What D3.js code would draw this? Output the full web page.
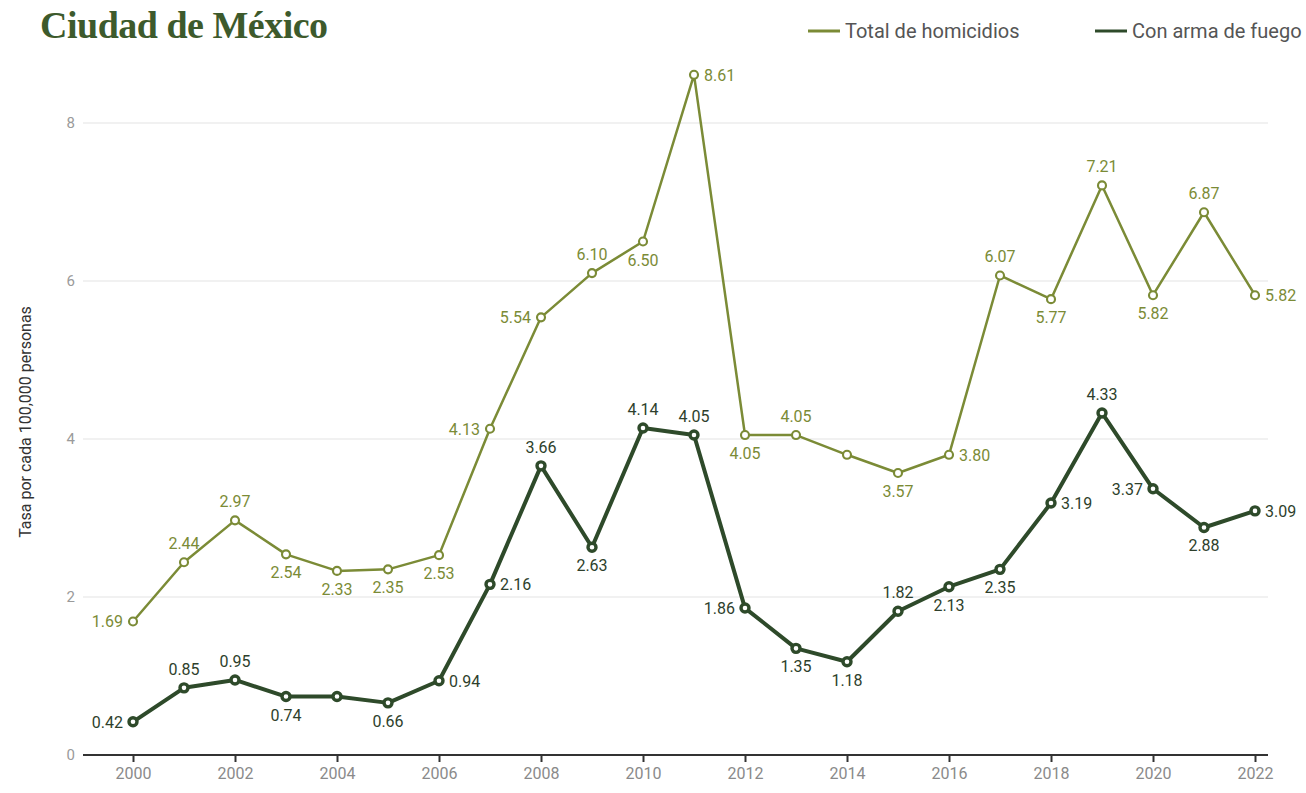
<!DOCTYPE html>
<html><head><meta charset="utf-8">
<script src="https://cdn.jsdelivr.net/npm/d3@7"></script>
<style>
body{margin:0;background:#fff;}
svg text{font-family:Roboto,"Noto Sans",sans-serif;}
</style></head>
<body><svg id="c" width="1306" height="793"></svg>
<script>
const years = d3.range(2000, 2023);
const totalValues = [1.69,2.44,2.97,2.54,2.33,2.35,2.53,4.13,5.54,6.10,6.50,8.61,4.05,4.05,3.80,3.57,3.80,6.07,5.77,7.21,5.82,6.87,5.82];
const firearmValues = [0.42,0.85,0.95,0.74,0.74,0.66,0.94,2.16,3.66,2.63,4.14,4.05,1.86,1.35,1.18,1.82,2.13,2.35,3.19,4.33,3.37,2.88,3.09];
const totalLabelPos = ["l","t","t","b","b","b","b","l","l","t","b","r","b","t","","b","r","t","b","t","b","t","r"];
const firearmLabelPos = ["l","t","t","b","","b","r","r","t","b","t","t","l","b","b","t","b","b","r","t","l","b","r"];
const yTicks = [0,2,4,6,8];
const xTicks = [2000,2002,2004,2006,2008,2010,2012,2014,2016,2018,2020,2022];
const seriesNames = ["Total de homicidios","Con arma de fuego"];
const colors = ["#7b8b36","#2e4a2a"];

const svg = d3.select("#c");
const x = d3.scaleLinear().domain([2000,2022]).range([133,1255]);
const y = d3.scaleLinear().domain([0,8]).range([755,123]);

svg.append("text").attr("x",40).attr("y",38).text("Ciudad de México")
  .style("font-family","'Liberation Serif','DejaVu Serif',serif").style("font-weight","bold")
  .style("font-size","38px").attr("fill","#3d5a2c").attr("letter-spacing","-0.5");

// grid
svg.append("g").selectAll("line").data(yTicks.filter(d=>d>0)).join("line")
  .attr("x1",83).attr("x2",1268).attr("y1",d=>y(d)).attr("y2",d=>y(d))
  .attr("stroke","#e3e3e3").attr("stroke-width",1);
svg.append("g").selectAll("text").data(yTicks).join("text")
  .attr("x",75).attr("y",d=>y(d)+5).attr("text-anchor","end").text(d=>d)
  .attr("fill","#9a9a9a").style("font-size","15px");

// x axis
const xa = svg.append("g").attr("transform","translate(0,755)")
  .call(d3.axisBottom(x).tickValues(xTicks).tickFormat(d3.format("d")).tickSize(7).tickPadding(6));
xa.select(".domain").attr("d","M83,0H1268").attr("stroke","#333").attr("stroke-width",2);
xa.selectAll(".tick line").attr("stroke","#333").attr("stroke-width",2);
xa.selectAll(".tick text").attr("fill","#8a8a8a").style("font-size","16px").style("font-family","Roboto,sans-serif");

svg.append("text").attr("transform","translate(31,422) rotate(-90)").attr("text-anchor","middle")
  .text("Tasa por cada 100,000 personas").attr("fill","#333").style("font-size","16px");

function drawSeries(vals,pos,color,width,r,lblColor){
  const data = years.map((yr,i)=>({yr,v:vals[i],p:pos[i]}));
  svg.append("path").datum(data).attr("fill","none").attr("stroke",color).attr("stroke-width",width)
    .attr("stroke-linejoin","round")
    .attr("d",d3.line().x(d=>x(d.yr)).y(d=>y(d.v)));
  svg.append("g").selectAll("circle").data(data).join("circle")
    .attr("cx",d=>x(d.yr)).attr("cy",d=>y(d.v)).attr("r",r)
    .attr("fill","#fff").attr("stroke",color).attr("stroke-width",width*0.85);
  svg.append("g").selectAll("text").data(data.filter(d=>d.p)).join("text")
    .attr("x",d=>x(d.yr)+(d.p==="l"?-10:d.p==="r"?10:0))
    .attr("y",d=>y(d.v)+(d.p==="t"?-13:d.p==="b"?24:6))
    .attr("text-anchor",d=>d.p==="l"?"end":d.p==="r"?"start":"middle")
    .text(d=>d.v.toFixed(2)).attr("fill",lblColor).style("font-size","16px");
}
drawSeries(totalValues,totalLabelPos,colors[0],2.5,4,"#7b8b36");
drawSeries(firearmValues,firearmLabelPos,colors[1],4,4,"#2e3f2c");

// legend
const lx=[808,1095];
seriesNames.forEach((n,i)=>{
  svg.append("line").attr("x1",lx[i]).attr("x2",lx[i]+32).attr("y1",31).attr("y2",31)
    .attr("stroke",colors[i]).attr("stroke-width",3);
  svg.append("text").attr("x",lx[i]+37).attr("y",38).text(n).attr("fill","#555").style("font-size","20px");
});
</script></body></html>
